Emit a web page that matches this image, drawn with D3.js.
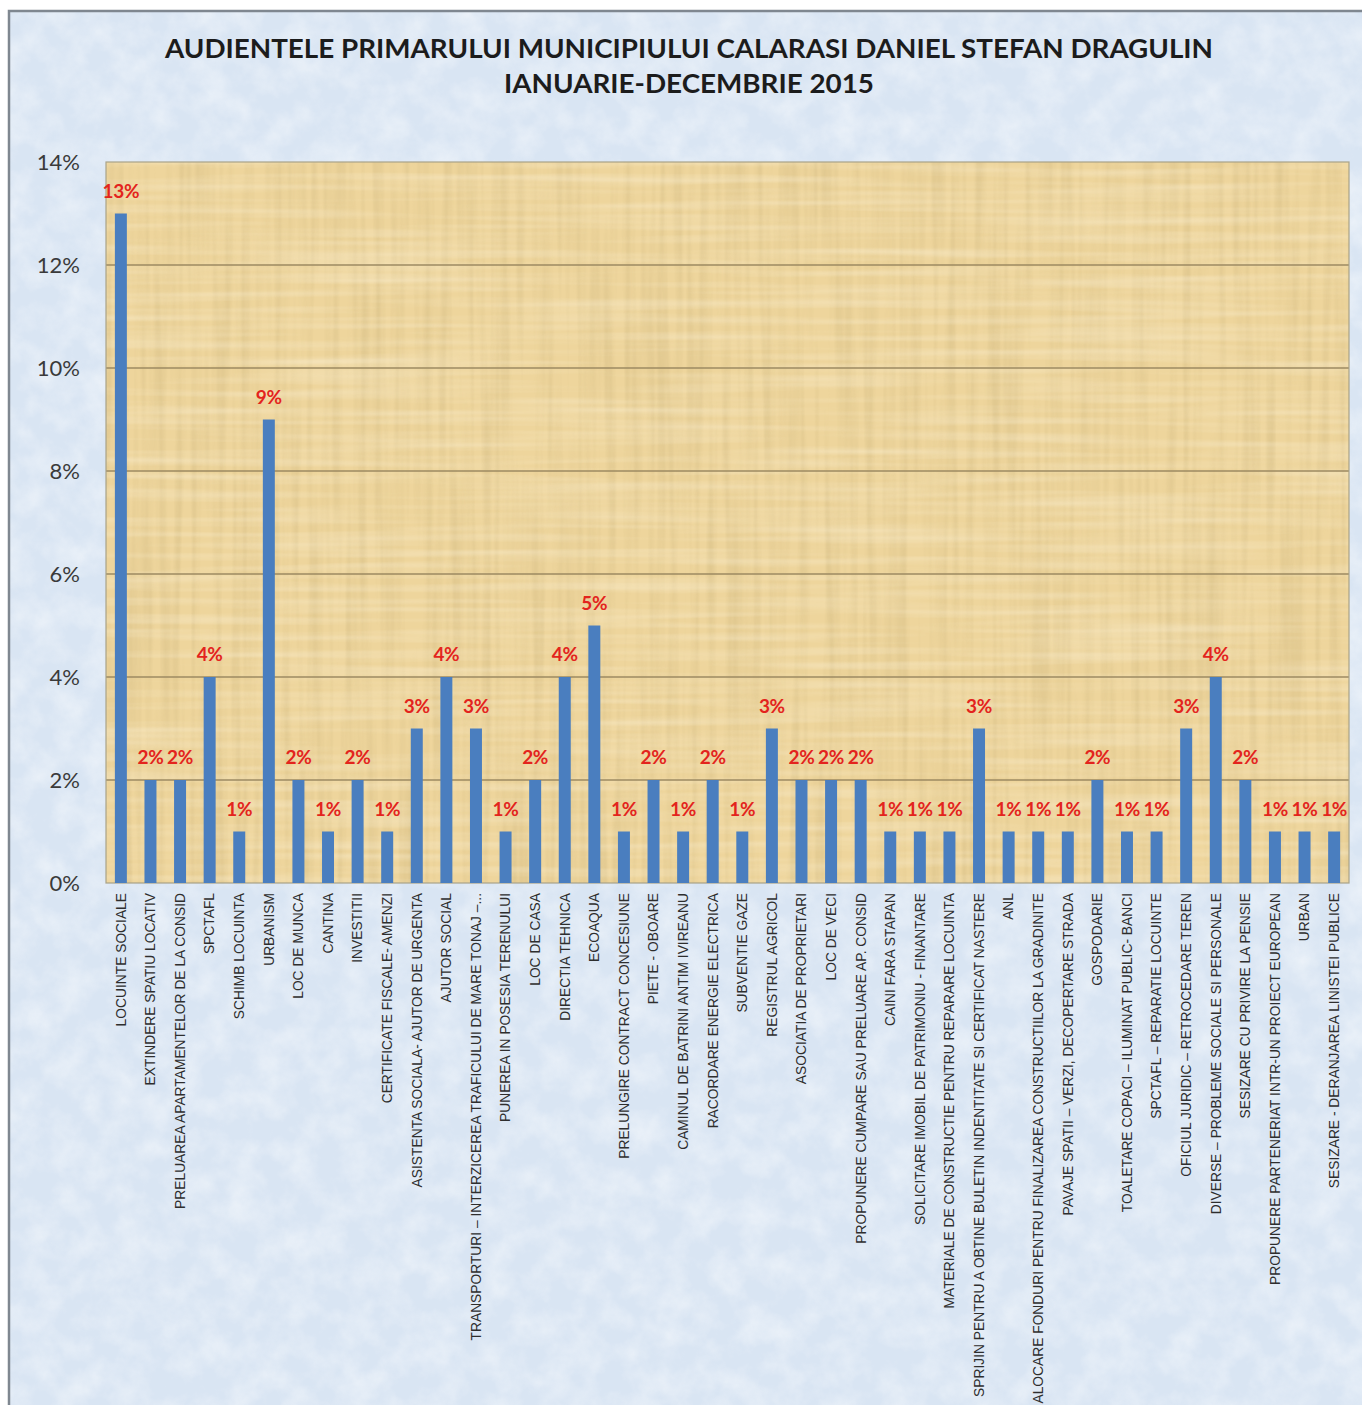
<!DOCTYPE html>
<html>
<head>
<meta charset="utf-8">
<script src="https://cdn.jsdelivr.net/npm/d3@7"></script>
<style>
  html, body { margin: 0; padding: 0; background: #ffffff; }
  svg { display: block; }
</style>
</head>
<body>
<script>
// Audiences of the Calarasi mayor, January–December 2015 (share of all requests, %)
const categories = [
  "LOCUINTE SOCIALE",
  "EXTINDERE SPATIU LOCATIV",
  "PRELUAREA APARTAMENTELOR DE LA CONSID",
  "SPCTAFL",
  "SCHIMB LOCUINTA",
  "URBANISM",
  "LOC DE MUNCA",
  "CANTINA",
  "INVESTITII",
  "CERTIFICATE FISCALE- AMENZI",
  "ASISTENTA SOCIALA- AJUTOR DE URGENTA",
  "AJUTOR SOCIAL",
  "TRANSPORTURI – INTERZICEREA TRAFICULUI DE MARE TONAJ –...",
  "PUNEREA IN POSESIA TERENULUI",
  "LOC DE CASA",
  "DIRECTIA TEHNICA",
  "ECOAQUA",
  "PRELUNGIRE CONTRACT CONCESIUNE",
  "PIETE - OBOARE",
  "CAMINUL DE BATRINI ANTIM IVIREANU",
  "RACORDARE ENERGIE ELECTRICA",
  "SUBVENTIE GAZE",
  "REGISTRUL AGRICOL",
  "ASOCIATIA DE PROPRIETARI",
  "LOC DE VECI",
  "PROPUNERE CUMPARE  SAU PRELUARE AP. CONSID",
  "CAINI FARA STAPAN",
  "SOLICITARE IMOBIL DE PATRIMONIU - FINANTARE",
  "MATERIALE DE CONSTRUCTIE PENTRU REPARARE LOCUINTA",
  "SPRIJIN PENTRU A OBTINE BULETIN INDENTITATE SI CERTIFICAT NASTERE",
  "ANL",
  "ALOCARE FONDURI PENTRU FINALIZAREA CONSTRUCTIILOR LA GRADINITE",
  "PAVAJE  SPATII – VERZI, DECOPERTARE STRADA",
  "GOSPODARIE",
  "TOALETARE COPACI – ILUMINAT PUBLIC- BANCI",
  "SPCTAFL – REPARATIE LOCUINTE",
  "OFICIUL JURIDIC – RETROCEDARE TEREN",
  "DIVERSE – PROBLEME SOCIALE SI PERSONALE",
  "SESIZARE CU PRIVIRE LA PENSIE",
  "PROPUNERE PARTENERIAT INTR-UN PROIECT EUROPEAN",
  "URBAN",
  "SESIZARE - DERANJAREA LINISTEI PUBLICE"
];

const shares = [
  13, 2, 2, 4, 1, 9, 2, 1, 2, 1,
  3, 4, 3, 1, 2, 4, 5, 1, 2, 1,
  2, 1, 3, 2, 2, 2, 1, 1, 1, 3,
  1, 1, 1, 2, 1, 1, 3, 4, 2, 1,
  1, 1
];

const yTicks = [0, 2, 4, 6, 8, 10, 12, 14];

const titleLines = [
  "AUDIENTELE PRIMARULUI MUNICIPIULUI CALARASI DANIEL STEFAN DRAGULIN",
  "IANUARIE-DECEMBRIE 2015"
];

const W = 1362, H = 1405;
const plot = { left: 106, right: 1349, top: 162, bottom: 883 };

const svg = d3.select("body").append("svg")
  .attr("width", W).attr("height", H);

const defs = svg.append("defs");

// mottled blue backdrop texture
const fBg = defs.append("filter").attr("id", "marble")
  .attr("x", 0).attr("y", 0).attr("width", "100%").attr("height", "100%");
fBg.append("feTurbulence").attr("type", "fractalNoise")
  .attr("baseFrequency", "0.035").attr("numOctaves", 4).attr("seed", 7).attr("result", "n");
fBg.append("feColorMatrix").attr("in", "n").attr("type", "matrix")
  .attr("values", "0 0 0 0 1  0 0 0 0 1  0 0 0 0 1  1.3 0 0 0 -0.45")
  .attr("result", "light");
fBg.append("feComposite").attr("in", "light").attr("in2", "SourceGraphic").attr("operator", "in");

// papyrus fibres for the plotting area
const fPap = defs.append("filter").attr("id", "fibresV")
  .attr("x", 0).attr("y", 0).attr("width", "100%").attr("height", "100%");
fPap.append("feTurbulence").attr("type", "fractalNoise")
  .attr("baseFrequency", "0.12 0.004").attr("numOctaves", 2).attr("seed", 3).attr("result", "n");
fPap.append("feColorMatrix").attr("in", "n").attr("type", "matrix")
  .attr("values", "0 0 0 0 0.55  0 0 0 0 0.42  0 0 0 0 0.18  1.4 0 0 0 -0.55");
fPap.append("feComposite").attr("in2", "SourceGraphic").attr("operator", "in");

const fPapH = defs.append("filter").attr("id", "fibresH")
  .attr("x", 0).attr("y", 0).attr("width", "100%").attr("height", "100%");
fPapH.append("feTurbulence").attr("type", "fractalNoise")
  .attr("baseFrequency", "0.004 0.12").attr("numOctaves", 2).attr("seed", 11).attr("result", "n");
fPapH.append("feColorMatrix").attr("in", "n").attr("type", "matrix")
  .attr("values", "0 0 0 0 1  0 0 0 0 0.95  0 0 0 0 0.8  1.3 0 0 0 -0.5");
fPapH.append("feComposite").attr("in2", "SourceGraphic").attr("operator", "in");

// chart frame
svg.append("rect").attr("x", 8).attr("y", 10).attr("width", W).attr("height", H)
  .attr("fill", "#d9e5f3");
svg.append("rect").attr("x", 8).attr("y", 10).attr("width", W).attr("height", H)
  .attr("fill", "#ffffff").attr("filter", "url(#marble)").attr("opacity", 0.6);
svg.append("path")
  .attr("d", `M9,${H} V11 H${W}`)
  .attr("fill", "none").attr("stroke", "#7f8790").attr("stroke-width", 2.5);

// title
const title = svg.append("g").attr("font-family", "Lato, 'Open Sans', sans-serif")
  .attr("font-weight", 700).attr("fill", "#1c1c1c").attr("text-anchor", "middle");
title.append("text").attr("x", 689).attr("y", 58).attr("font-size", 27)
  .attr("textLength", 1048).attr("lengthAdjust", "spacingAndGlyphs")
  .text(titleLines[0]);
title.append("text").attr("x", 689).attr("y", 93).attr("font-size", 27)
  .attr("textLength", 370).attr("lengthAdjust", "spacingAndGlyphs")
  .text(titleLines[1]);

// scales
const x = d3.scaleBand().domain(categories).range([plot.left, plot.right])
  .paddingInner(0.595).paddingOuter(0.3);
const y = d3.scaleLinear().domain([0, 14]).range([plot.bottom, plot.top]);

// plotting area (papyrus)
const pw = plot.right - plot.left, ph = plot.bottom - plot.top;
svg.append("rect").attr("x", plot.left).attr("y", plot.top).attr("width", pw).attr("height", ph)
  .attr("fill", "#eed59c");
svg.append("rect").attr("x", plot.left).attr("y", plot.top).attr("width", pw).attr("height", ph)
  .attr("fill", "#fff").attr("filter", "url(#fibresV)").attr("opacity", 0.5);
svg.append("rect").attr("x", plot.left).attr("y", plot.top).attr("width", pw).attr("height", ph)
  .attr("fill", "#fff").attr("filter", "url(#fibresH)").attr("opacity", 0.5);

// horizontal gridlines
svg.append("g").selectAll("line").data(yTicks.filter(t => t > 0 && t < 14)).join("line")
  .attr("x1", plot.left).attr("x2", plot.right)
  .attr("y1", d => y(d)).attr("y2", d => y(d))
  .attr("stroke", "#9c8a62").attr("stroke-width", 1.3);

svg.append("rect").attr("x", plot.left).attr("y", plot.top).attr("width", pw).attr("height", ph)
  .attr("fill", "none").attr("stroke", "#a9a288").attr("stroke-width", 1.2);

// y axis
const yAxis = svg.append("g").attr("transform", `translate(${plot.left - 26},0)`)
  .call(d3.axisLeft(y).tickValues(yTicks).tickFormat(d => d + "%").tickSize(0).tickPadding(0));
yAxis.select(".domain").remove();
yAxis.selectAll("text").attr("font-family", "Lato, 'Open Sans', sans-serif")
  .attr("font-size", 22).attr("fill", "#3a3a3a");

// bars
svg.append("g").selectAll("rect").data(shares).join("rect")
  .attr("x", (d, i) => x(categories[i]))
  .attr("y", d => y(d))
  .attr("width", x.bandwidth())
  .attr("height", d => y(0) - y(d))
  .attr("fill", "#4a7ebf");

// value labels
svg.append("g").selectAll("text").data(shares).join("text")
  .attr("x", (d, i) => x(categories[i]) + x.bandwidth() / 2)
  .attr("y", d => y(d) - 16)
  .attr("text-anchor", "middle")
  .attr("font-family", "Lato, 'Open Sans', sans-serif")
  .attr("font-weight", 700).attr("font-size", 19)
  .attr("letter-spacing", -0.3)
  .attr("fill", "#e3241d")
  .text(d => d + "%");

// category labels, rotated
const xAxis = svg.append("g").attr("transform", `translate(0,${plot.bottom})`)
  .call(d3.axisBottom(x).tickSize(0).tickPadding(0));
xAxis.select(".domain").remove();
xAxis.selectAll("text")
  .attr("font-family", "'Liberation Sans Narrow', 'Arial Narrow', sans-serif")
  .attr("font-size", 13.8).attr("fill", "#2e2e2e")
  .attr("text-anchor", "end")
  .attr("transform", "rotate(-90)")
  .attr("x", -10).attr("y", 0).attr("dy", "0.35em");
</script>
</body>
</html>
